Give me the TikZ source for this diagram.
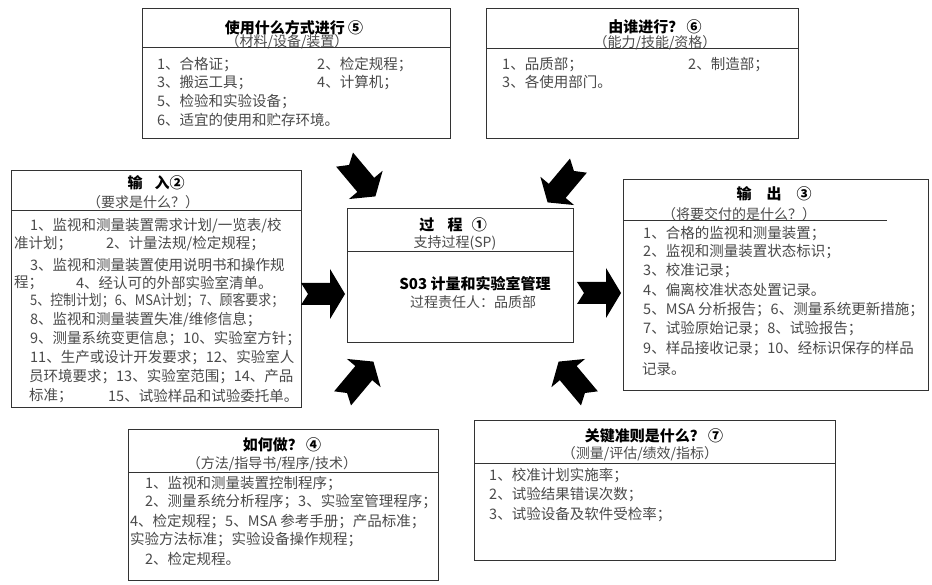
\documentclass[tikz,border=0pt]{standalone}
\usepackage{fontspec}
\usepackage{graphicx}
\setmainfont{Noto Sans CJK SC}
\definecolor{txtgray}{HTML}{4A4A4A}
\definecolor{boxline}{HTML}{333333}
\tikzset{
  box/.style={draw=boxline, line width=1.3pt, anchor=north west, inner sep=0pt, fill=white},
  sepline/.style={draw=boxline, line width=1pt},
  ttl/.style={inner sep=0pt, font=\fontsize{15}{18}\selectfont\bfseries},
  sub/.style={inner sep=0pt, text=txtgray, font=\fontsize{14}{17}\selectfont},
  ln/.style={inner sep=0pt, anchor=west, text=txtgray, font=\fontsize{14.5}{17}\selectfont},
  pics/hbigarrow/.style={code={\fill[black] (-22,11) -- (7,11) -- (7,25) -- (22,0) -- (7,-25) -- (7,-11) -- (-22,-11) -- (-15,0) -- cycle;}},
  pics/diagarrow/.style={code={\fill[black] (-24,11) -- (9,11) -- (9,22) -- (24,0) -- (9,-22) -- (9,-11) -- (-24,-11) -- (-17,0) -- cycle;}}
}
\begin{document}
\begin{tikzpicture}[x=1pt,y=1pt]
\useasboundingbox (0,0) rectangle (932,-585);
\fill[white] (0,0) rectangle (932,-585);

% ---------- box 5 (top left)
\node[box, minimum width=308pt, minimum height=130pt] (b5) at (142,-8) {};
\draw[sepline] (b5.west |- 0,-48) -- (b5.east |- 0,-48);
\node[ttl] (b5t) at (294,-28) {使用什么方式进行 ⑤};
\node[sub] (b5s) at (287,-42) {（材料/设备/装置）};
\node[ln] (b5a) at (157,-65) {1、合格证；};
\node[ln] (b5b) at (317,-65) {2、检定规程；};
\node[ln] (b5c) at (157,-83) {3、搬运工具；};
\node[ln] (b5d) at (317,-83) {4、计算机；};
\node[ln] (b5e) at (157,-102) {5、检验和实验设备；};
\node[ln] (b5f) at (157,-120) {6、适宜的使用和贮存环境。};

% ---------- box 6 (top right)
\node[box, minimum width=312pt, minimum height=130pt] (b6) at (486,-8) {};
\draw[sepline] (b6.west |- 0,-49) -- (b6.east |- 0,-49);
\node[ttl] (b6t) at (655,-27) {由谁进行？ ⑥};
\node[sub] (b6s) at (655,-43) {（能力/技能/资格）};
\node[ln] (b6a) at (502,-65) {1、品质部；};
\node[ln] (b6b) at (688,-65) {2、制造部；};
\node[ln] (b6c) at (502,-82) {3、各使用部门。};

% ---------- box 2 (input)
\node[box, minimum width=290pt, minimum height=237pt] (bi) at (11,-170) {};
\draw[sepline] (bi.west |- 0,-211) -- (bi.east |- 0,-211);
\node[ttl] (bit) at (156,-183) {输\hspace{0.8em}入②};
\node[sub] (bis) at (143,-202) {（要求是什么？）};
\node[ln] (bi1) at (30,-226) {1、监视和测量装置需求计划/一览表/校};
\node[ln] (bi2) at (14,-244) {准计划；};
\node[ln] (bi2b) at (106,-244) {2、计量法规/检定规程；};
\node[ln] (bi3) at (30,-265) {3、监视和测量装置使用说明书和操作规};
\node[ln] (bi4) at (14,-283) {程；};
\node[ln] (bi4b) at (76,-283) {4、经认可的外部实验室清单。};
\node[ln] (bi5) at (30,-301) {\scalebox{0.89}[1]{5、控制计划；6、MSA计划；7、顾客要求；}};
\node[ln] (bi6) at (30,-320) {8、监视和测量装置失准/维修信息；};
\node[ln] (bi7) at (30,-339) {9、测量系统变更信息；10、实验室方针；};
\node[ln] (bi8) at (30,-358) {11、生产或设计开发要求；12、实验室人};
\node[ln] (bi9) at (29,-377) {员环境要求；13、实验室范围；14、产品};
\node[ln] (bi10) at (29,-396) {标准；};
\node[ln] (bi10b) at (108,-396) {15、试验样品和试验委托单。};

% ---------- center box (process)
\node[box, minimum width=226pt, minimum height=134pt] (bc) at (347,-208) {};
\draw[sepline] (bc.west |- 0,-252) -- (bc.east |- 0,-252);
\node[ttl] (bct) at (453,-225) {过\hspace{0.9em}程\hspace{0.6em}①};
\node[sub] (bcs) at (455,-243) {支持过程(SP)};
\node[ttl] (bcm) at (475,-284) {S03 计量和实验室管理};
\node[sub] (bcr) at (473,-302) {过程责任人：品质部};

% ---------- box 3 (output)
\node[box, minimum width=305pt, minimum height=211pt] (bo) at (623,-179) {};
\draw[sepline] (bo.west |- 0,-221) -- (887,-221);
\node[ttl] (bot) at (774,-194) {输\hspace{1em}出\hspace{1em}③};
\node[sub, anchor=west] (bos) at (662,-214) {（将要交付的是什么？）};
\node[ln] (bo1) at (643,-234) {1、合格的监视和测量装置；};
\node[ln] (bo2) at (643,-252) {2、监视和测量装置状态标识；};
\node[ln] (bo3) at (643,-271) {3、校准记录；};
\node[ln] (bo4) at (643,-290) {4、偏离校准状态处置记录。};
\node[ln] (bo5) at (643,-310) {5、MSA 分析报告；6、测量系统更新措施；};
\node[ln] (bo6) at (643,-329) {7、试验原始记录；8、试验报告；};
\node[ln] (bo7) at (643,-349) {9、样品接收记录；10、经标识保存的样品};
\node[ln] (bo8) at (642,-369) {记录。};

% ---------- box 4 (how)
\node[box, minimum width=310pt, minimum height=151pt] (bh) at (128,-429) {};
\draw[sepline] (bh.west |- 0,-472) -- (bh.east |- 0,-472);
\node[ttl] (bht) at (282,-445) {如何做？ ④};
\node[sub] (bhs) at (272,-464) {（方法/指导书/程序/技术）};
\node[ln] (bh1) at (145,-484) {1、监视和测量装置控制程序；};
\node[ln] (bh2) at (145,-502) {2、测量系统分析程序；3、实验室管理程序；};
\node[ln] (bh3) at (130,-522) {4、检定规程；5、MSA 参考手册；产品标准；};
\node[ln] (bh4) at (130,-540) {实验方法标准；实验设备操作规程；};
\node[ln] (bh5) at (145,-559) {2、检定规程。};

% ---------- box 7 (criteria)
\node[box, minimum width=361pt, minimum height=140pt] (bk) at (474,-420) {};
\draw[sepline] (bk.west |- 0,-463) -- (bk.east |- 0,-463);
\node[ttl] (bkt) at (654,-436) {关键准则是什么？ ⑦};
\node[sub] (bks) at (640,-454) {（测量/评估/绩效/指标）};
\node[ln] (bk1) at (489,-476) {1、校准计划实施率；};
\node[ln] (bk2) at (489,-495) {2、试验结果错误次数；};
\node[ln] (bk3) at (489,-515) {3、试验设备及软件受检率；};

% ---------- block arrows
\pic at (323,-294) {hbigarrow};
\pic at (599,-293) {hbigarrow};
\pic[rotate=-50] at (360,-178) {diagarrow};
\pic[rotate=-130] at (563,-184) {diagarrow};
\pic[rotate=50] at (358,-380) {diagarrow};
\pic[rotate=130] at (574,-380) {diagarrow};
\end{tikzpicture}
\end{document}
